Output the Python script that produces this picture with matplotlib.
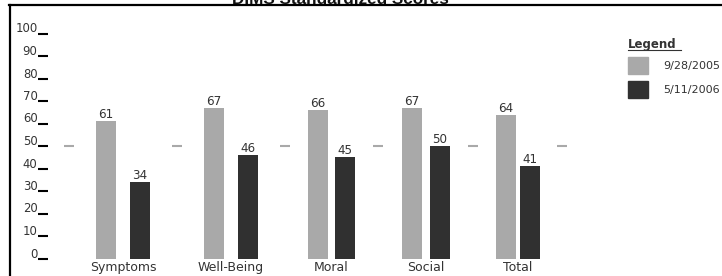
import matplotlib
matplotlib.use("Agg")
import matplotlib.pyplot as plt
from matplotlib.lines import Line2D
from matplotlib.patches import Rectangle
import matplotlib.transforms as mtransforms

# data
categories = ["Symptoms", "Well-Being", "Moral", "Social", "Total"]
scores_2005 = [61, 67, 66, 67, 64]
scores_2006 = [34, 46, 45, 50, 41]
series_labels = ["9/28/2005", "5/11/2006"]
y_ticks = [0, 10, 20, 30, 40, 50, 60, 70, 80, 90, 100]
norm_value = 50

# layout (pixel-like units along the x axis)
group_x = [75, 183, 283.5, 378, 470]
pair_gap = [14, 14, 7, 8, 4]
dash_x = [21, 129, 236.5, 330, 424.5, 514]
bar_w = 20

W, H = 722, 276
light = "#a9a9a9"
dark = "#303030"
txt = "#333333"

fig = plt.figure(figsize=(W / 100, H / 100), dpi=100)
ax = fig.add_axes([48 / W, 17.5 / H, 552 / W, 225 / H])
ax.set_xlim(0, 552)
ax.set_ylim(0, 100)

x1 = [c - g / 2 - bar_w / 2 for c, g in zip(group_x, pair_gap)]
x2 = [c + g / 2 + bar_w / 2 for c, g in zip(group_x, pair_gap)]
ax.bar(x1, scores_2005, width=bar_w, color=light)
ax.bar(x2, scores_2006, width=bar_w, color=dark)

up = mtransforms.offset_copy(ax.transData, fig=fig, x=0, y=3, units="dots")
for xs, vals in [(x1, scores_2005), (x2, scores_2006)]:
    for x, v in zip(xs, vals):
        ax.text(x, v, str(v), transform=up, ha="center", va="baseline",
                fontsize=8.6, color=txt)

# norm markers at 50
for d in dash_x:
    ax.plot([d - 5, d + 5], [norm_value, norm_value], color=light, lw=1.5,
            solid_capstyle="butt")

for s in ax.spines.values():
    s.set_visible(False)
ax.set_xticks(group_x)
ax.set_xticklabels(categories, fontsize=9, color=txt)
ax.tick_params(axis="x", length=0, pad=2)
ax.set_yticks(y_ticks)
ax.set_yticklabels([])
ax.tick_params(axis="y", direction="out", length=7.2, width=1.5, color="black")

lab_tr = mtransforms.blended_transform_factory(fig.transFigure, ax.transData)
lab_tr = lab_tr + mtransforms.ScaledTranslation(0, 1 / 100, fig.dpi_scale_trans)
for t in y_ticks:
    ax.text(37.5 / W, t, str(t), transform=lab_tr, ha="right", va="baseline",
            fontsize=8.4, color=txt)

# title and frame
fig.text(340.5 / W, 1 - 4 / H, "DIMS Standardized Scores", ha="center",
         va="baseline", fontsize=12.3, fontweight="bold",
         family="Liberation Sans", color="#111111")
fig.add_artist(Line2D([9 / W, 1], [1 - 5.3 / H] * 2, color="black", lw=1.6))
fig.add_artist(Line2D([9.8 / W] * 2, [0, 1 - 5.3 / H], color="black", lw=1.6))

# legend
fig.text(628 / W, 1 - 48 / H, "Legend", ha="left", va="baseline",
         fontsize=8.5, fontweight="bold", color=txt)
fig.add_artist(Line2D([628 / W, 681 / W], [1 - 50 / H] * 2, color=txt, lw=0.8))
for i, (lab, col) in enumerate(zip(series_labels, [light, dark])):
    top = 57 + i * 24.5
    fig.add_artist(Rectangle((628 / W, 1 - (top + 17) / H), 20 / W, 17 / H,
                             transform=fig.transFigure, color=col))
    fig.text(663 / W, 1 - (top + 8.5) / H, lab, ha="left", va="center",
             fontsize=8, color=txt)

fig.savefig("out.png", dpi=100)
